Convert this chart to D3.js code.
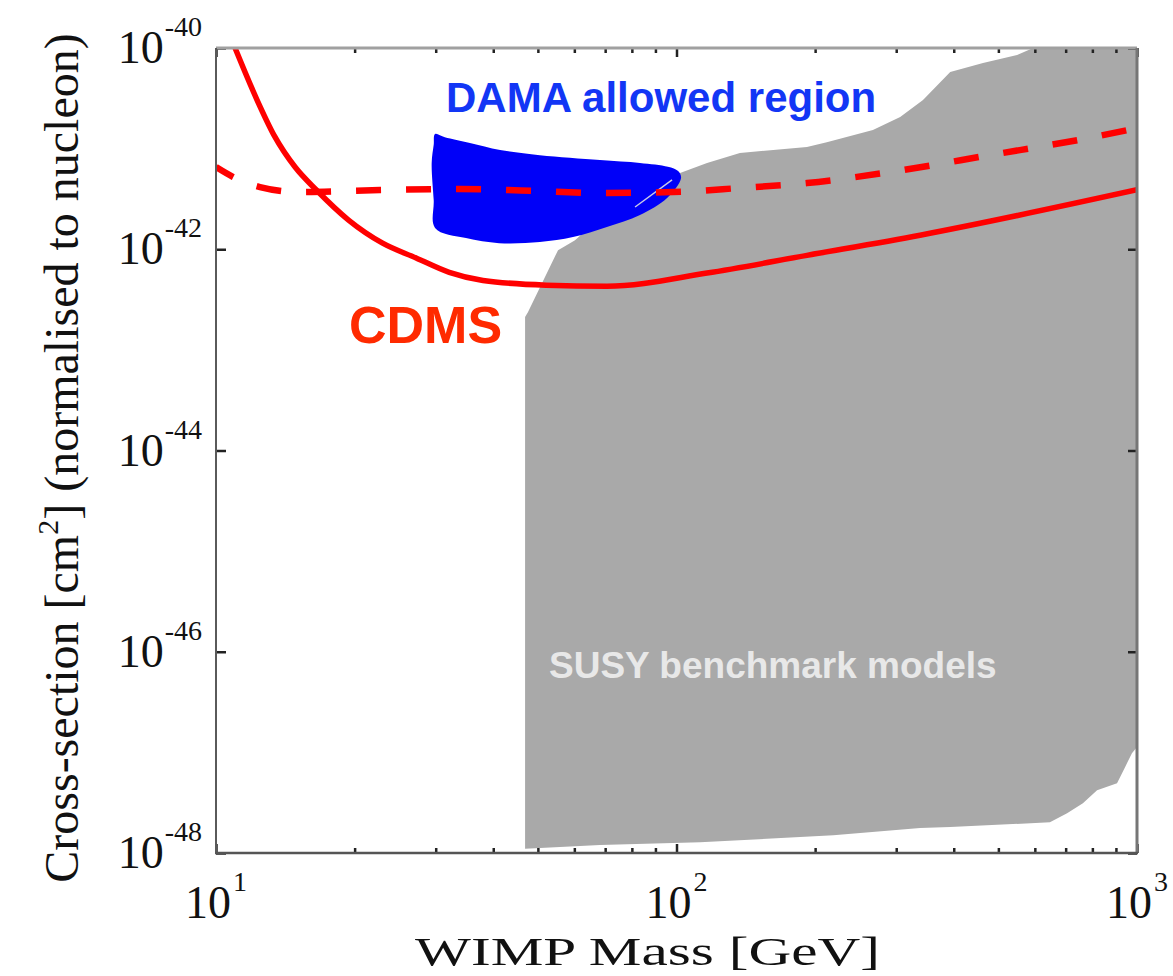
<!DOCTYPE html>
<html>
<head>
<meta charset="utf-8">
<script src="https://cdn.jsdelivr.net/npm/d3@7"></script>
<style>
  html, body { margin: 0; padding: 0; background: #ffffff; }
  svg { display: block; }
</style>
</head>
<body>
<svg id="chart" width="1173" height="976"></svg>
<script>
// ---------------- DATA ----------------
// CDMS limit (solid) : WIMP mass [GeV], cross-section [cm^2]
const cdmsMass  = [11.0, 12.28, 13.4, 14.85, 16.5, 19.4, 23.0, 27.2, 32.1, 38.0, 52.1, 70.6, 116.5, 192, 338, 1000];
const cdmsSigma = [1e-40, 3.04e-41, 1.33e-41, 6.56e-42, 3.9e-42, 1.95e-42, 1.15e-42, 8.2e-43, 5.9e-43, 4.9e-43, 4.4e-43, 4.3e-43, 5.8e-43, 8.7e-43, 1.38e-42, 3.9e-42];

// dashed curve
const dashMass  = [10, 10.9, 12.46, 15.2, 22.7, 33.9, 50.5, 68.2, 98.3, 137, 192, 291, 480, 803, 1000];
const dashSigma = [6.56e-42, 5.22e-42, 4.15e-42, 3.70e-42, 3.88e-42, 3.96e-42, 3.79e-42, 3.62e-42, 3.70e-42, 4.06e-42, 4.55e-42, 5.85e-42, 8.63e-42, 1.30e-41, 1.60e-41];

// DAMA allowed region outline
const damaMass  = [29.9, 31.4, 35.6, 41.4, 50.5, 68.2, 83.3, 95.8, 100.8, 102.3, 95.4, 83.3, 70.6, 59.6, 50.5, 41.2, 34.9, 29.9, 29.7, 29.4, 29.7];
const damaSigma = [1.40e-41, 1.30e-41, 1.14e-41, 9.7e-42, 8.6e-42, 7.7e-42, 7.2e-42, 6.6e-42, 5.98e-42, 5.1e-42, 3.23e-42, 2.19e-42, 1.66e-42, 1.32e-42, 1.18e-42, 1.15e-42, 1.29e-42, 1.63e-42, 3.08e-42, 7.2e-42, 1.09e-41];

// thin light streak inside the DAMA region
const streakMass  = [81.3, 97.8];
const streakSigma = [2.63e-42, 4.88e-42];

// SUSY benchmark models region outline
const susyMass  = [46.9, 68.2, 112.5, 219, 338, 393, 647, 705, 763, 819, 905, 942, 975, 1000, 1000, 595, 549, 463, 393, 343, 306, 267, 212, 192, 137.3, 116.5, 101.8, 75.4, 60.2, 58.7, 55.3, 47.6, 46.9];
const susySigma = [1.10e-48, 1.20e-48, 1.28e-48, 1.50e-48, 1.77e-48, 1.81e-48, 2.02e-48, 2.49e-48, 3.13e-48, 4.21e-48, 4.94e-48, 7.13e-48, 9.82e-48, 1.13e-47, 1e-40, 1e-40, 8.5e-41, 7.1e-41, 5.77e-41, 3.04e-41, 2.06e-41, 1.53e-41, 1.16e-41, 1.04e-41, 9.04e-42, 7.2e-42, 5.71e-42, 3.08e-42, 1.23e-42, 1.15e-42, 9.8e-43, 2.38e-43, 2.12e-43];

// axes
const massDomain  = [10, 1000];
const sigmaDomain = [1e-48, 1e-40];
const massMajor   = [10, 100, 1000];
const massMajorExp = ["1", "2", "3"];
const massMinor   = [20, 30, 40, 50, 60, 70, 80, 90, 200, 300, 400, 500, 600, 700, 800, 900];
const sigmaMajor  = [1e-40, 1e-42, 1e-44, 1e-46, 1e-48];
const sigmaMajorExp = ["-40", "-42", "-44", "-46", "-48"];

const xTitle = "WIMP Mass [GeV]";
const yTitleA = "Cross-section [cm";
const yTitleSup = "2";
const yTitleB = "] (normalised to nucleon)";

// ---------------- DRAW ----------------
const svg = d3.select("#chart");
const L = 216, R = 1137, T = 48, B = 853;

const x = d3.scaleLog().domain(massDomain).range([L, R]);
const y = d3.scaleLog().domain(sigmaDomain).range([B, T]);

svg.append("defs").append("clipPath").attr("id", "plotclip")
  .append("rect").attr("x", L).attr("y", T).attr("width", R - L).attr("height", B - T);

const plot = svg.append("g").attr("clip-path", "url(#plotclip)");

const zip = (a, b) => a.map((v, i) => [v, b[i]]);

// SUSY region
plot.append("path")
  .attr("d", d3.line().x(d => x(d[0])).y(d => y(d[1])).curve(d3.curveLinearClosed)(zip(susyMass, susySigma)))
  .attr("fill", "#a9a9a9");

// DAMA region
plot.append("path")
  .attr("d", d3.line().x(d => x(d[0])).y(d => y(d[1])).curve(d3.curveCatmullRomClosed.alpha(0.5))(zip(damaMass, damaSigma)))
  .attr("fill", "#0000f8");

plot.append("path")
  .attr("d", d3.line().x(d => x(d[0])).y(d => y(d[1]))(zip(streakMass, streakSigma)))
  .attr("stroke", "#c9c9e6").attr("stroke-width", 1.5).attr("fill", "none");

// dashed curve
plot.append("path")
  .attr("d", d3.line().x(d => x(d[0])).y(d => y(d[1])).curve(d3.curveMonotoneX)(zip(dashMass, dashSigma)))
  .attr("fill", "none").attr("stroke", "#ff0000").attr("stroke-width", 6.5)
  .attr("stroke-dasharray", "25,25").attr("stroke-dashoffset", 5);

// CDMS solid
plot.append("path")
  .attr("d", d3.line().x(d => x(d[0])).y(d => y(d[1])).curve(d3.curveMonotoneX)(zip(cdmsMass, cdmsSigma)))
  .attr("fill", "none").attr("stroke", "#ff0000").attr("stroke-width", 5.5);

// axes ticks via d3 axes
const gBottom = svg.append("g").attr("transform", `translate(0,${B})`);
gBottom.call(d3.axisBottom(x).tickValues(massMinor).tickSize(-5).tickFormat(""));
gBottom.append("g").call(d3.axisBottom(x).tickValues(massMajor).tickSize(-9).tickFormat(""));
const gTop = svg.append("g").attr("transform", `translate(0,${T})`);
gTop.call(d3.axisTop(x).tickValues(massMinor).tickSize(-5).tickFormat(""));
gTop.append("g").call(d3.axisTop(x).tickValues(massMajor).tickSize(-9).tickFormat(""));
const gLeft = svg.append("g").attr("transform", `translate(${L},0)`);
gLeft.call(d3.axisLeft(y).tickValues(sigmaMajor).tickSize(-10).tickFormat(""));
const gRight = svg.append("g").attr("transform", `translate(${R},0)`);
gRight.call(d3.axisRight(y).tickValues(sigmaMajor).tickSize(-9).tickFormat(""));

svg.selectAll(".domain").remove();
svg.selectAll(".tick line").attr("stroke", "#222").attr("stroke-width", 2.5);

// frame
svg.append("line").attr("x1", L).attr("x2", R).attr("y1", T).attr("y2", T).attr("stroke", "#a0a0a0").attr("stroke-width", 3);
svg.append("line").attr("x1", R).attr("x2", R).attr("y1", T).attr("y2", B).attr("stroke", "#767676").attr("stroke-width", 3);
svg.append("line").attr("x1", L).attr("x2", L).attr("y1", T).attr("y2", B).attr("stroke", "#5a5a5a").attr("stroke-width", 2);
svg.append("line").attr("x1", L - 1).attr("x2", R + 1).attr("y1", B).attr("y2", B).attr("stroke", "#555").attr("stroke-width", 2.5);

// tick labels
const serif = "'Liberation Serif', 'Times New Roman', serif";
massMajor.forEach((m, i) => {
  const t = svg.append("text")
    .attr("x", x(m)).attr("y", B + 65)
    .attr("text-anchor", "middle")
    .attr("font-family", serif).attr("fill", "#111");
  t.append("tspan").attr("font-size", 46).text("10");
  t.append("tspan").attr("font-size", 28).attr("dy", -27).attr("dx", 2).text(massMajorExp[i]);
});
sigmaMajor.forEach((s, i) => {
  const t = svg.append("text")
    .attr("x", L - 14).attr("y", y(s) + 15)
    .attr("text-anchor", "end")
    .attr("font-family", serif).attr("fill", "#111");
  t.append("tspan").attr("font-size", 46).text("10");
  t.append("tspan").attr("font-size", 28).attr("dy", -27).attr("dx", 1).text(sigmaMajorExp[i]);
});

// axis titles
svg.append("text")
  .attr("x", 415).attr("y", 965)
  .attr("font-family", serif).attr("font-size", 41).attr("fill", "#111")
  .attr("textLength", 465).attr("lengthAdjust", "spacingAndGlyphs")
  .text(xTitle);

const yt = svg.append("text")
  .attr("transform", `translate(78,${458}) rotate(-90)`)
  .attr("text-anchor", "middle")
  .attr("font-family", serif).attr("font-size", 48).attr("fill", "#111");
yt.append("tspan").text(yTitleA);
yt.append("tspan").attr("font-size", 30).attr("dy", -20).text(yTitleSup);
yt.append("tspan").attr("dy", 20).text(yTitleB);

// annotations
const sans = "'Liberation Sans', Arial, Helvetica, sans-serif";
svg.append("text").attr("x", 446).attr("y", 112)
  .attr("font-family", sans).attr("font-weight", "bold").attr("font-size", 42)
  .attr("fill", "#1236f5").text("DAMA allowed region");
svg.append("text").attr("x", 349).attr("y", 343)
  .attr("font-family", sans).attr("font-weight", "bold").attr("font-size", 52)
  .attr("fill", "#ff2a00").text("CDMS");
svg.append("text").attr("x", 549).attr("y", 678)
  .attr("font-family", sans).attr("font-weight", "bold").attr("font-size", 37)
  .attr("fill", "#e8e8e8").text("SUSY benchmark models");
</script>
</body>
</html>
